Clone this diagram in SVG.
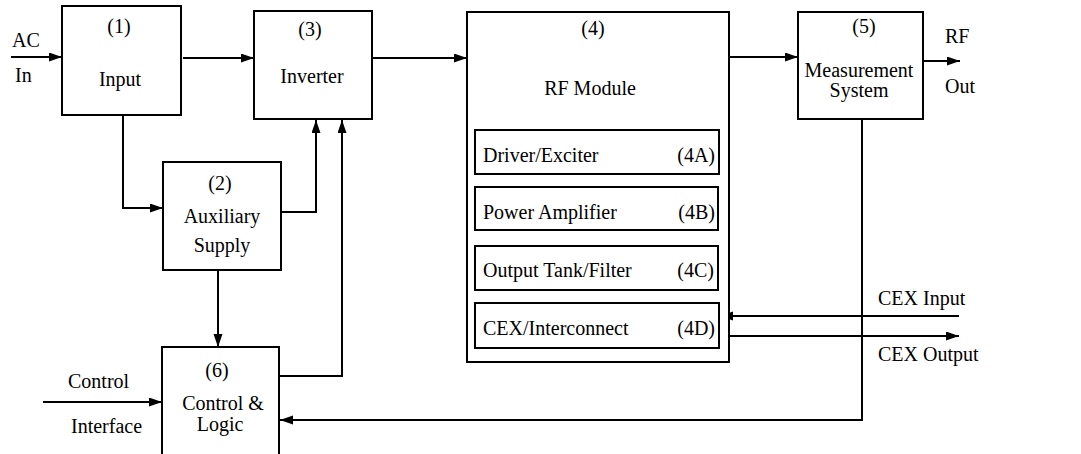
<svg xmlns="http://www.w3.org/2000/svg" width="1081" height="454" viewBox="0 0 1081 454">
<style>
.box{fill:#fff;stroke:#000;stroke-width:2}
.ln{fill:none;stroke:#000;stroke-width:2}
text{font-size:20px;fill:#000}
.c{text-anchor:middle}
.e{text-anchor:end}
</style>
<defs>
<marker id="ah" markerUnits="userSpaceOnUse" markerWidth="14" markerHeight="10" refX="13" refY="4.5" orient="auto">
<path d="M0,0 L13,4.5 L0,9 z" fill="#000"/>
</marker>
</defs>
<g font-family="'Liberation Serif', Tinos, 'Times New Roman', 'DejaVu Serif', serif">
<g id="connectors">
<path class="ln" d="M11,57 H62" marker-end="url(#ah)"/>
<path class="ln" d="M183,58 H254" marker-end="url(#ah)"/>
<path class="ln" d="M372,58 H467" marker-end="url(#ah)"/>
<path class="ln" d="M729,57 H798" marker-end="url(#ah)"/>
<path class="ln" d="M923,61 H960" marker-end="url(#ah)"/>
<path class="ln" d="M123,115 V208 H163" marker-end="url(#ah)"/>
<path class="ln" d="M281,212 H316 V120" marker-end="url(#ah)"/>
<path class="ln" d="M279,376 H342 V120" marker-end="url(#ah)"/>
<path class="ln" d="M218,270 V347" marker-end="url(#ah)"/>
<path class="ln" d="M43,402 H162" marker-end="url(#ah)"/>
<path class="ln" d="M862,119 V420 H280" marker-end="url(#ah)"/>
<path class="ln" d="M959,316 H720" marker-end="url(#ah)"/>
<path class="ln" d="M719,336 H959" marker-end="url(#ah)"/>
</g>
<g id="labels">
<text x="12" y="47">AC</text>
<text x="15" y="82">In</text>
<text x="945" y="43">RF</text>
<text x="945" y="93">Out</text>
<text x="878" y="305">CEX Input</text>
<text x="878" y="361">CEX Output</text>
<text x="68" y="388">Control</text>
<text x="71" y="433">Interface</text>
</g>
<g id="n1">
<rect class="box" x="62" y="6" width="119" height="109"/>
<text class="c" x="119" y="33">(1)</text>
<text class="c" x="120" y="86">Input</text>
</g>
<g id="n3">
<rect class="box" x="254" y="11" width="118" height="108"/>
<text class="c" x="310" y="36">(3)</text>
<text class="c" x="312" y="83">Inverter</text>
</g>
<g id="n2">
<rect class="box" x="163" y="162" width="118" height="108"/>
<text class="c" x="220" y="190">(2)</text>
<text class="c" x="222" y="223">Auxiliary</text>
<text class="c" x="222" y="252">Supply</text>
</g>
<g id="n6">
<rect class="box" x="162" y="347" width="117" height="112"/>
<text class="c" x="217" y="377">(6)</text>
<text class="c" x="223" y="410">Control &amp;</text>
<text class="c" x="220" y="431">Logic</text>
</g>
<g id="n4">
<rect class="box" x="467" y="12" width="262" height="350"/>
<text class="c" x="593" y="35">(4)</text>
<text class="c" x="590" y="95">RF Module</text>
</g>
<g id="n4a">
<rect class="box" x="475" y="130" width="244" height="44"/>
<text x="483" y="162">Driver/Exciter</text>
<text class="e" x="715" y="162">(4A)</text>
</g>
<g id="n4b">
<rect class="box" x="475" y="187" width="243" height="43"/>
<text x="483" y="219">Power Amplifier</text>
<text class="e" x="715" y="219">(4B)</text>
</g>
<g id="n4c">
<rect class="box" x="475" y="246" width="243" height="44"/>
<text x="483" y="277">Output Tank/Filter</text>
<text class="e" x="714" y="277">(4C)</text>
</g>
<g id="n4d">
<rect class="box" x="475" y="303" width="244" height="45"/>
<text x="483" y="335">CEX/Interconnect</text>
<text class="e" x="715" y="335">(4D)</text>
</g>
<g id="n5">
<rect class="box" x="798" y="12" width="125" height="107"/>
<text class="c" x="864" y="33">(5)</text>
<text class="c" x="859" y="77">Measurement</text>
<text class="c" x="859" y="97">System</text>
</g>
</g>
</svg>
